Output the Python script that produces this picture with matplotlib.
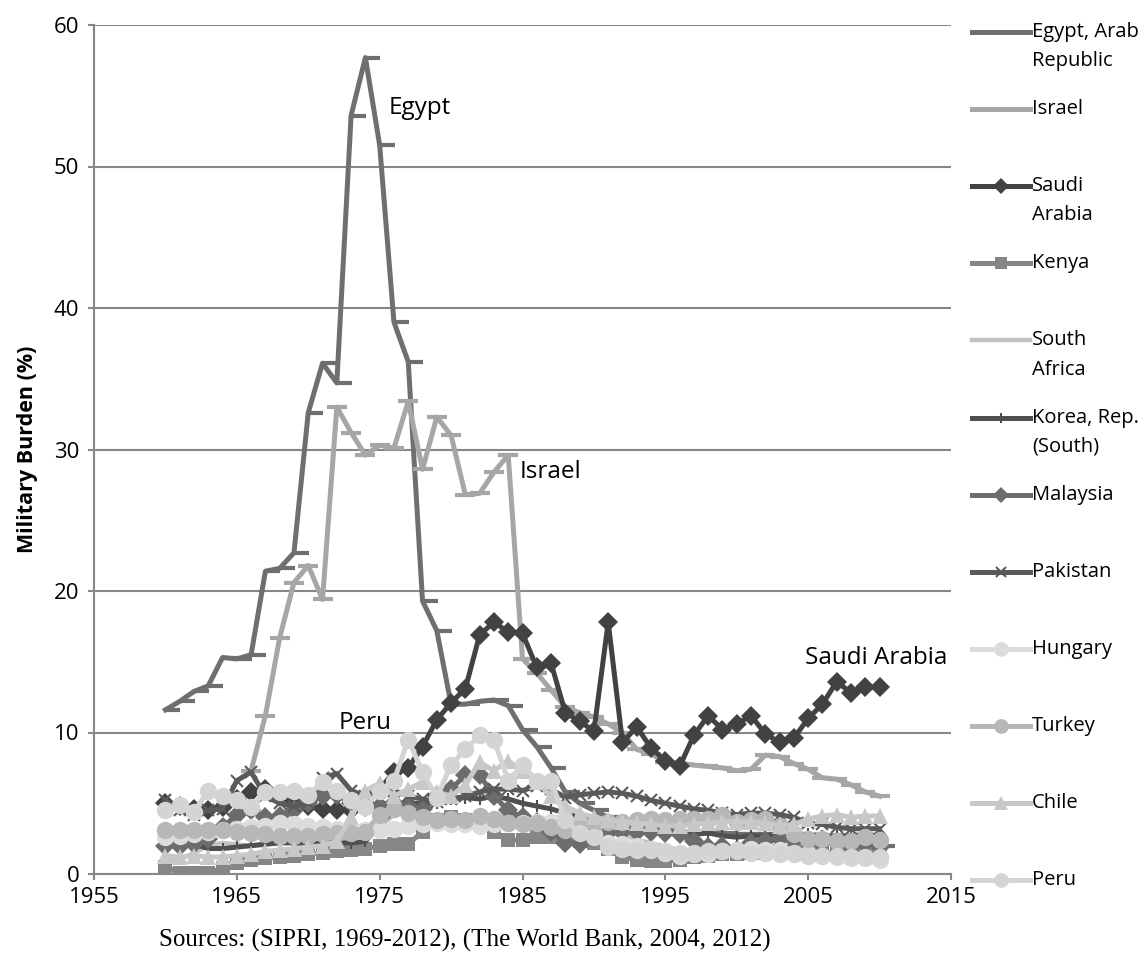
import numpy as np
import matplotlib
matplotlib.use("Agg")
import matplotlib.pyplot as plt
from matplotlib.path import Path
from matplotlib.lines import Line2D

years = list(range(1960, 2011))

egypt = [11.6, 12.2, 12.9, 13.3, 15.3, 15.2, 15.5, 21.4, 21.6, 22.7,
         32.6, 36.1, 34.7, 53.6, 57.7, 51.5, 39.0, 36.2, 19.3, 17.2,
         12.0, 12.0, 12.2, 12.3, 11.9, 10.2, 9.0, 7.5, 5.8, 5.0,
         4.5, 4.0, 3.8, 3.6, 3.3, 3.2, 3.0, 2.9, 2.9, 2.9,
         2.8, 2.8, 2.8, 2.8, 2.6, 2.6, 2.5, 2.4, 2.3, 2.1, 2.0]
israel = [None] * 6 + [
         7.3, 11.2, 16.7, 20.6, 21.8, 19.4, 33.0, 31.2, 29.6, 30.3,
         30.1, 33.4, 28.6, 32.3, 31.0, 26.8, 26.9, 28.4, 29.6, 15.2,
         14.2, 13.0, 11.8, 11.4, 11.1, 10.6, 10.0, 8.8, 8.5, 7.9,
         7.8, 7.7, 7.6, 7.5, 7.3, 7.4, 8.4, 8.3, 7.8, 7.4,
         6.8, 6.7, 6.3, 5.8, 5.5]
saudi = [5.0, 4.8, 4.6, 4.5, 4.7, 5.3, 5.8, 6.0, 5.5, 5.0,
         4.8, 4.6, 4.5, 4.5, 5.0, 6.0, 7.2, 7.5, 9.0, 10.9,
         12.1, 13.1, 16.9, 17.8, 17.1, 17.0, 14.6, 14.9, 11.4, 10.8,
         10.1, 17.8, 9.3, 10.4, 8.9, 8.0, 7.6, 9.8, 11.2, 10.2,
         10.6, 11.2, 9.9, 9.3, 9.6, 11.0, 12.0, 13.6, 12.8, 13.2, 13.2]
kenya = [0.5, 0.1, 0.1, 0.1, 0.4, 0.8, 1.0, 1.1, 1.2, 1.3,
         1.4, 1.5, 1.6, 1.7, 1.8, 2.0, 2.1, 2.1, 3.0, 3.8,
         4.0, 3.8, 3.5, 3.0, 2.4, 2.4, 2.6, 2.6, 2.5, 2.3,
         2.2, 1.8, 1.2, 1.0, 0.9, 0.9, 1.0, 1.2, 1.3, 1.4,
         1.4, 1.5, 1.5, 1.6, 1.6, 1.6, 1.5, 1.5, 1.6, 1.6, 1.6]
south_africa = [0.9, 1.0, 1.5, 2.0, 2.2, 2.1, 2.0, 2.2, 2.3, 2.2,
                2.1, 2.3, 2.3, 2.5, 3.0, 3.3, 4.2, 4.6, 4.2, 4.0,
                3.8, 3.6, 3.8, 3.9, 4.1, 3.9, 3.8, 4.0, 4.0, 3.9,
                3.6, 3.0, 2.9, 2.4, 2.2, 1.9, 1.7, 1.6, 1.4, 1.4,
                1.5, 1.5, 1.6, 1.6, 1.5, 1.5, 1.4, 1.3, 1.3, 1.3, 1.3]
korea = [2.5, 2.3, 2.1, 1.8, 1.8, 1.9, 2.0, 2.1, 2.2, 2.2,
         2.1, 2.2, 2.2, 2.2, 2.3, 3.5, 4.5, 5.0, 5.0, 5.0,
         5.3, 5.4, 5.3, 5.5, 5.3, 5.0, 4.8, 4.6, 4.3, 4.0,
         3.7, 3.5, 3.4, 3.2, 3.0, 2.9, 2.9, 2.8, 2.9, 2.7,
         2.6, 2.7, 2.7, 2.8, 2.8, 2.8, 2.7, 2.7, 2.7, 2.8, 2.7]
malaysia = [2.0, 2.0, 2.1, 2.5, 3.3, 4.2, 4.5, 4.0, 4.1, 4.5,
            5.0, 5.5, 5.6, 5.0, 4.7, 4.8, 5.0, 4.8, 4.6, 5.5,
            6.0, 7.0, 7.0, 5.5, 4.5, 4.0, 3.7, 3.0, 2.2, 2.1,
            2.6, 2.9, 3.0, 3.0, 3.0, 2.9, 2.8, 2.3, 1.9, 2.0,
            1.7, 2.2, 2.3, 2.5, 2.4, 2.3, 2.2, 2.2, 2.0, 2.1, 1.9]
pakistan = [5.2, 4.5, 4.2, 4.5, 4.6, 6.6, 7.2, 5.5, 5.0, 4.8,
            5.0, 6.8, 7.1, 5.9, 5.5, 5.8, 5.9, 5.5, 5.3, 5.1,
            5.3, 5.5, 5.8, 6.0, 6.0, 5.9, 6.2, 6.0, 5.4, 5.6,
            5.7, 5.8, 5.7, 5.5, 5.2, 5.0, 4.8, 4.6, 4.5, 4.3,
            4.2, 4.3, 4.3, 4.2, 4.0, 3.6, 3.5, 3.3, 3.2, 3.2, 3.2]
hungary = [2.6, 2.7, 2.8, 3.0, 3.1, 3.2, 3.3, 3.4, 3.6, 3.5,
           3.4, 3.3, 3.2, 3.1, 3.1, 3.1, 3.2, 3.4, 3.5, 3.6,
           3.5, 3.5, 3.4, 3.5, 3.6, 3.6, 3.7, 3.7, 3.7, 3.5,
           2.8, 2.2, 2.1, 2.0, 1.8, 1.5, 1.3, 1.4, 1.4, 1.6,
           1.7, 1.8, 1.7, 1.7, 1.5, 1.4, 1.3, 1.2, 1.1, 1.1, 1.0]
turkey = [3.1, 3.1, 3.1, 3.1, 3.1, 3.0, 2.9, 2.8, 2.7, 2.7,
          2.7, 2.8, 2.9, 2.9, 3.0, 4.2, 4.6, 4.3, 4.0, 3.8,
          3.9, 3.8, 4.1, 3.9, 3.6, 3.5, 3.6, 3.3, 3.1, 3.3,
          3.5, 3.7, 3.7, 3.8, 3.9, 3.8, 3.9, 3.9, 3.9, 4.2,
          3.7, 3.8, 3.9, 3.4, 2.8, 2.5, 2.5, 2.3, 2.3, 2.6, 2.4]
chile = [1.3, 1.2, 1.3, 1.2, 1.2, 1.3, 1.4, 1.6, 1.7, 1.8,
         1.9, 2.0, 2.3, 4.0, 5.9, 6.4, 5.5, 6.0, 6.5, 5.8,
         5.5, 6.3, 7.9, 7.3, 8.0, 7.3, 6.5, 5.5, 4.8, 4.3,
         4.0, 3.8, 3.7, 3.6, 3.5, 3.4, 3.4, 3.5, 3.6, 3.7,
         3.7, 3.7, 3.6, 3.4, 3.5, 3.9, 4.1, 4.2, 4.0, 4.1, 4.1]
peru = [4.5, 4.9, 4.4, 5.9, 5.5, 5.2, 4.7, 5.8, 5.8, 5.9,
        5.6, 6.5, 5.9, 5.2, 4.7, 5.9, 6.6, 9.5, 7.2, 5.4,
        7.7, 8.8, 9.8, 9.5, 6.6, 7.7, 6.6, 6.6, 3.8, 2.9,
        2.6, 1.9, 1.8, 1.7, 1.7, 1.6, 1.5, 1.5, 1.6, 1.6,
        1.6, 1.5, 1.5, 1.4, 1.4, 1.3, 1.3, 1.3, 1.2, 1.2, 1.2]

labels = ["Egypt, Arab\nRepublic", "Israel", "Saudi\nArabia", "Kenya", "South\nAfrica",
          "Korea, Rep.\n(South)", "Malaysia", "Pakistan", "Hungary", "Turkey", "Chile", "Peru"]
series = [egypt, israel, saudi, kenya, south_africa, korea, malaysia, pakistan,
          hungary, turkey, chile, peru]

dash_right = Path([(0, 0), (1, 0)], [Path.MOVETO, Path.LINETO])
styles = [
    dict(color="#6f6f6f", marker=dash_right, ms=22, mew=3.0, lw=3.6, legend_marker=None),
    dict(color="#a6a6a6", marker="_", ms=14, mew=3.0, lw=3.6, legend_marker=None),
    dict(color="#424242", marker="D", ms=10, mew=0, lw=3.6, legend_marker="D"),
    dict(color="#868686", marker="s", ms=9.5, mew=0, lw=3.6, legend_marker="s"),
    dict(color="#c2c2c2", marker=None, ms=0, mew=0, lw=3.2, legend_marker=None),
    dict(color="#4f4f4f", marker="|", ms=8, mew=1.5, lw=3.6, legend_marker="|"),
    dict(color="#6c6c6c", marker="D", ms=10, mew=0, lw=3.6, legend_marker="D"),
    dict(color="#5a5a5a", marker="x", ms=9, mew=1.5, lw=3.6, legend_marker="x"),
    dict(color="#dcdcdc", marker="o", ms=12.5, mew=0, lw=3.6, legend_marker="o"),
    dict(color="#b7b7b7", marker="o", ms=12.5, mew=0, lw=3.6, legend_marker="o"),
    dict(color="#c8c8c8", marker="^", ms=11.5, mew=0, lw=3.6, legend_marker="^"),
    dict(color="#d4d4d4", marker="o", ms=12.5, mew=0, lw=3.6, legend_marker="o"),
]

fig = plt.figure(figsize=(11.45, 9.65), dpi=100)
ax = fig.add_axes([94/1145, 1-874/965, (951-94)/1145, (874-25)/965])

font = "Open Sans"
for vals, st in zip(series, styles):
    y = np.array([np.nan if v is None else v for v in vals], dtype=float)
    ax.plot(years, y, color=st["color"], lw=st["lw"], marker=st["marker"],
            ms=st["ms"], mew=st["mew"], mec=st["color"], mfc=st["color"],
            solid_joinstyle="round", zorder=3)

ax.set_xlim(1955, 2015)
ax.set_ylim(0, 60)
ax.set_xticks(range(1955, 2016, 10))
ax.set_yticks(range(0, 61, 10))
gc = "#878787"
ax.grid(axis="y", color=gc, lw=1.5, zorder=0)
ax.set_axisbelow(True)
for s in ["top", "right"]:
    ax.spines[s].set_visible(False)
for s in ["left", "bottom"]:
    ax.spines[s].set_color(gc)
    ax.spines[s].set_linewidth(1.5)
ax.tick_params(axis="both", color=gc, width=1.5, length=4.5, labelsize=16)
ax.tick_params(axis="x", pad=5)
ax.tick_params(axis="y", pad=6)
for lab in ax.get_xticklabels() + ax.get_yticklabels():
    lab.set_fontfamily(font)
ax.set_ylabel("Military Burden (%)", fontsize=15.5, fontweight="bold",
              fontfamily=font)
ax.yaxis.set_label_coords(-56/857, 0.5)

# annotations
ann_fs = 17.5
ax.text(1975.6, 54.1, "Egypt", fontsize=ann_fs, fontfamily=font, va="center", ha="left")
ax.text(1984.8, 28.4, "Israel", fontsize=ann_fs, fontfamily=font, va="center", ha="left")
ax.text(2004.8, 15.3, "Saudi Arabia", fontsize=ann_fs, fontfamily=font, va="center", ha="left")
ax.text(1972.1, 10.7, "Peru", fontsize=ann_fs, fontfamily=font, va="center", ha="left")

# legend (manual)
W, H = 1145, 965
y0 = 32
step = 77.1
for i, (lab, st) in enumerate(zip(labels, styles)):
    yp = y0 + i * step
    yf = 1 - yp / H
    fig.add_artist(Line2D([972/W, 1030/W], [yf, yf], color=st["color"], lw=st["lw"],
                          transform=fig.transFigure))
    if st["legend_marker"]:
        fig.add_artist(Line2D([1001/W], [yf], color=st["color"], marker=st["legend_marker"],
                              ms=st["ms"] * 0.85, mew=st["mew"], mec=st["color"], mfc=st["color"],
                              lw=0, transform=fig.transFigure))
    fig.text(1032/W, yf + 10/H, lab, fontsize=14.5, fontfamily=font, va="top", ha="left",
             linespacing=1.62)

fig.text(465/W, 1 - 940/H, "Sources: (SIPRI, 1969-2012), (The World Bank, 2004, 2012)",
         fontsize=18, fontfamily="Liberation Serif", ha="center", va="center")

fig.savefig("out.png", dpi=100)
